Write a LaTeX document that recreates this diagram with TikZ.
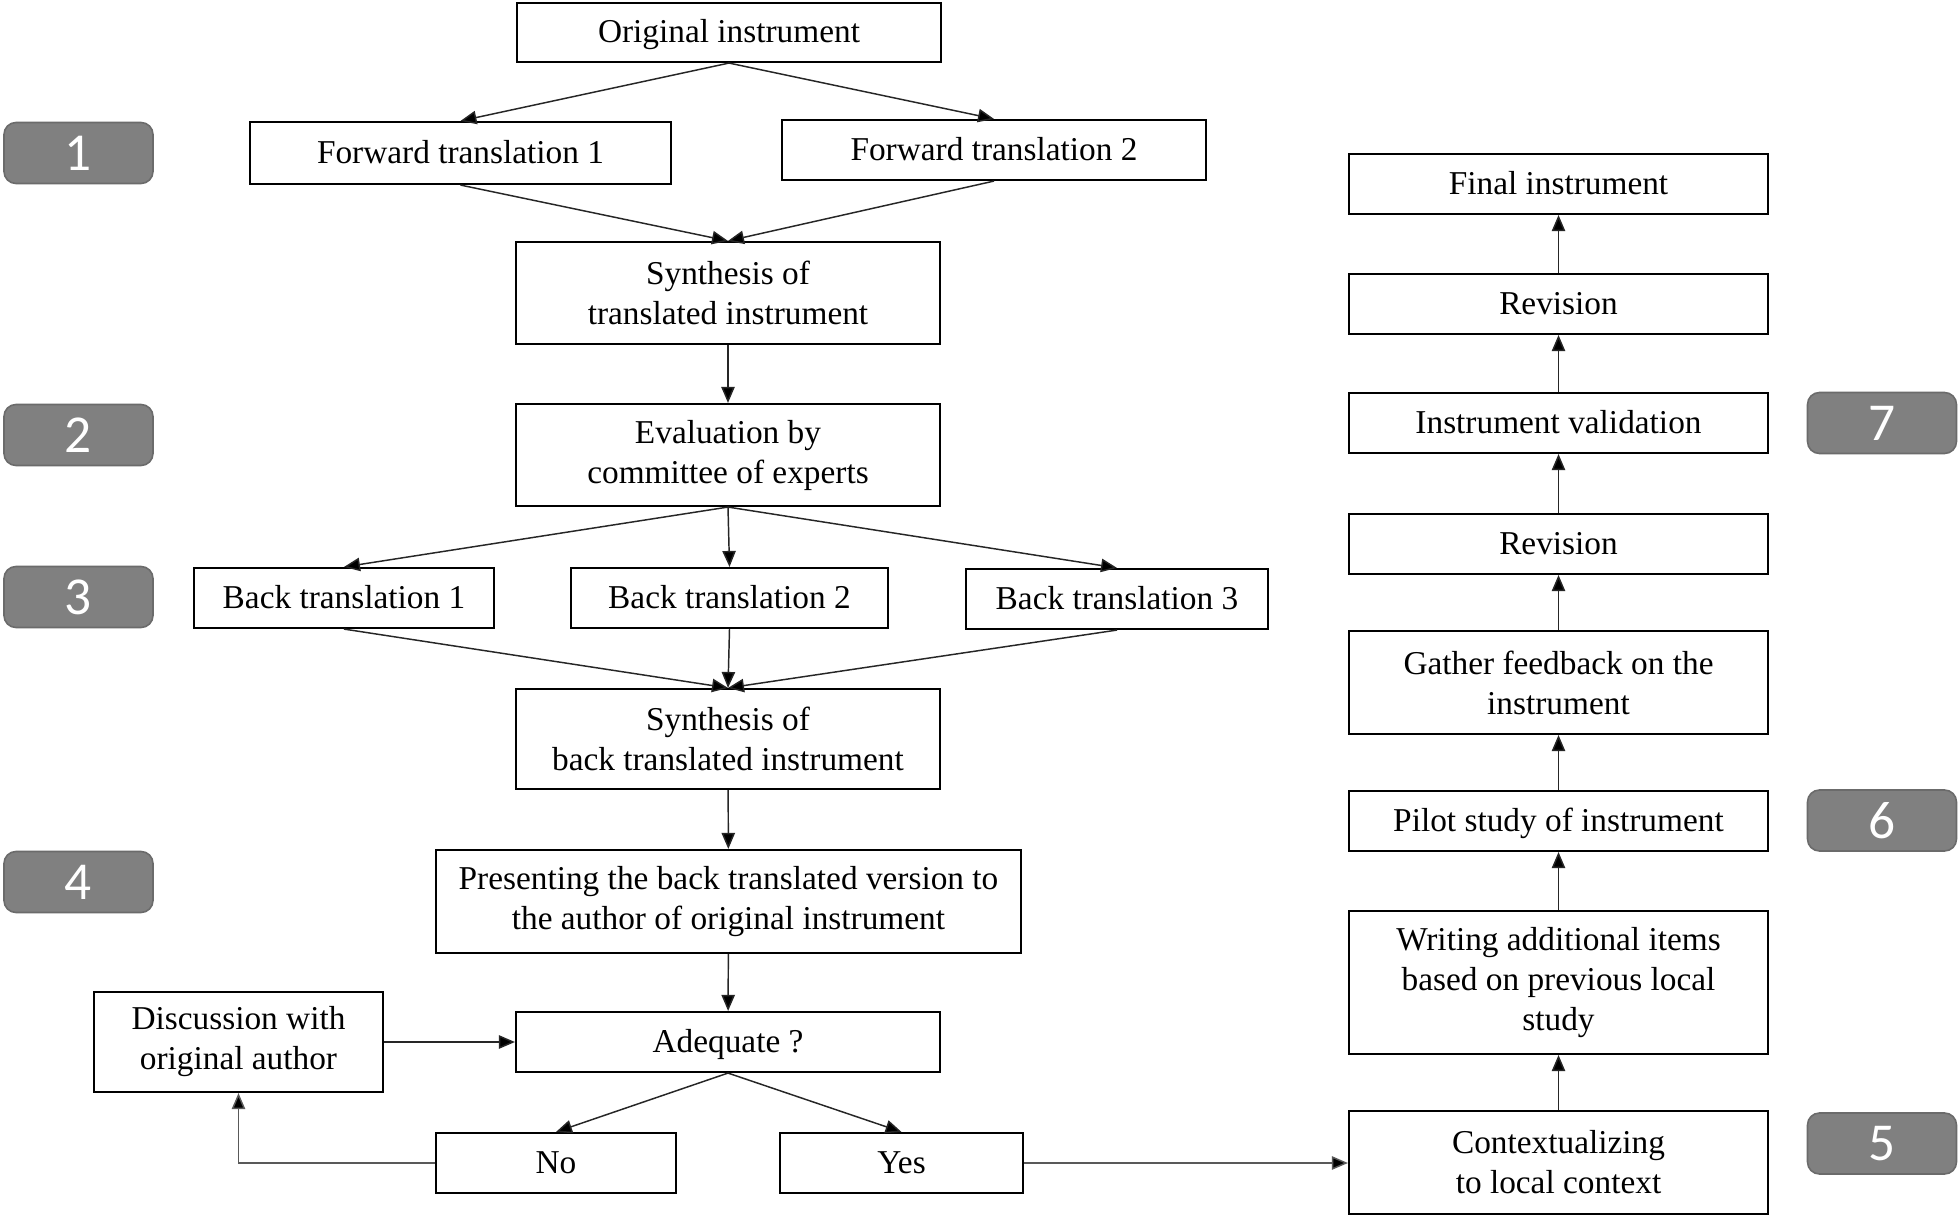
\documentclass[tikz,border=0pt]{standalone}
\usepackage{fontspec}
\setmainfont{Liberation Serif}
\newfontfamily\badgefont{Carlito}
\usetikzlibrary{arrows.meta,calc}
\begin{document}
\begin{tikzpicture}[x=0.75pt,y=-0.75pt,
  box/.style={draw=black,line width=1.6pt,fill=white,align=center,inner sep=0pt,
    font=\fontsize{25}{30}\selectfont},
  one/.style={text height=19.5pt,text depth=4pt},
  sz/.style 2 args={minimum width=#1*0.75pt,minimum height=#2*0.75pt},
  badge/.style={draw=black!58,fill=black!50,line width=1.2pt,rounded corners=9pt,
    minimum width=149*0.75pt,minimum height=61*0.75pt,inner sep=0pt,
    text=white,font=\badgefont\fontsize{40}{40}\selectfont},
  conn/.style={draw=black!85,line width=1.1pt,-{Triangle[length=12pt,width=10pt,fill=black]}},
  gconn/.style={draw=black!65,line width=1.1pt,-{Triangle[length=12pt,width=10pt,fill=black]}}
]
\useasboundingbox[fill=white] (0,0) rectangle (1960,1216);

% left / centre column
\node[box,one,sz={424}{59}] (orig) at (729,32.5) {Original instrument};
\node[box,one,sz={421}{62}] (ft1) at (460.5,153) {Forward translation 1};
\node[box,one,sz={424}{60}] (ft2) at (994,150) {Forward translation 2};
\node[box,sz={424}{102}] (syn) at (728,293) {Synthesis of\\translated instrument};
\node[box,sz={424}{102}] (eval) at (728,455) {Evaluation by\\committee of experts};
\node[box,one,sz={300}{60}] (bt1) at (344,598) {Back translation 1};
\node[box,one,sz={317}{60}] (bt2) at (729.5,598) {Back translation 2};
\node[box,one,sz={302}{60}] (bt3) at (1117,599) {Back translation 3};
\node[box,sz={424}{100}] (synb) at (728,739) {Synthesis of\\back translated instrument};
\node[box,sz={585}{103}] (pres) at (728.5,901.5) {Presenting the back translated version to\\the author of original instrument};
\node[box,sz={289}{100}] (disc) at (238.5,1042) {Discussion with\\original author};
\node[box,one,sz={424}{60}] (adeq) at (728,1042) {Adequate ?};
\node[box,one,sz={240}{60}] (no) at (556,1163) {No};
\node[box,one,sz={243}{60}] (yes) at (901.5,1163) {Yes};

% right column
\node[box,sz={419}{103}] (ctx) at (1558.5,1162.5) {Contextualizing\\to local context};
\node[box,sz={419}{143}] (write) at (1558.5,982.5) {Writing additional items\\based on previous local\\study};
\node[box,one,sz={419}{60}] (pilot) at (1558.5,821) {Pilot study of instrument};
\node[box,sz={419}{103}] (gather) at (1558.5,682.5) {Gather feedback on the\\instrument};
\node[box,one,sz={419}{60}] (rev1) at (1558.5,544) {Revision};
\node[box,one,sz={419}{60}] (valid) at (1558.5,423) {Instrument validation};
\node[box,one,sz={419}{60}] (rev2) at (1558.5,304) {Revision};
\node[box,one,sz={419}{60}] (final) at (1558.5,184) {Final instrument};

% step badges
\node[badge] (b1) at (78.5,153) {1};
\node[badge] (b2) at (78.5,435) {2};
\node[badge] (b3) at (78.5,597) {3};
\node[badge] (b4) at (78.5,882) {4};
\node[badge] (b7) at (1882,423) {7};
\node[badge] (b6) at (1882,820.5) {6};
\node[badge] (b5) at (1882,1143.5) {5};

% connectors
\draw[conn] (orig.south) -- (ft1.north);
\draw[conn] (orig.south) -- (ft2.north);
\draw[conn] (ft1.south) -- (syn.north);
\draw[conn] (ft2.south) -- (syn.north);
\draw[conn] (syn) -- (eval);
\draw[conn] (eval.south) -- (bt1.north);
\draw[conn] (eval.south) -- (bt2.north);
\draw[conn] (eval.south) -- (bt3.north);
\draw[conn] (bt1.south) -- (synb.north);
\draw[conn] (bt2.south) -- (synb.north);
\draw[conn] (bt3.south) -- (synb.north);
\draw[conn] (synb) -- (pres);
\draw[conn] (pres) -- (adeq);
\draw[conn] (disc.east) -- (adeq.west);
\draw[conn] (adeq.south) -- (no.north);
\draw[conn] (adeq.south) -- (yes.north);
\draw[gconn] (no.west) -| (disc.south);
\draw[gconn] (yes.east) -- (yes.east -| ctx.west);
\draw[conn] (ctx) -- (write);
\draw[conn] (write) -- (pilot);
\draw[conn] (pilot) -- (gather);
\draw[conn] (gather) -- (rev1);
\draw[conn] (rev1) -- (valid);
\draw[conn] (valid) -- (rev2);
\draw[conn] (rev2) -- (final);
\end{tikzpicture}
\end{document}
